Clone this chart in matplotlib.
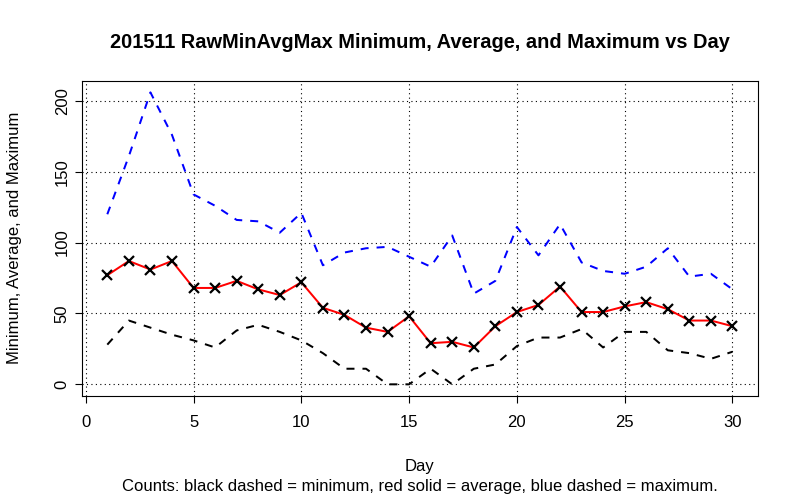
import matplotlib
matplotlib.use("Agg")
import matplotlib.pyplot as plt

days = list(range(1, 31))
minimum = [28, 45, 40, 35, 31, 26, 38, 42, 37, 31, 22, 11, 11, 0, 0,
           11, 0, 11, 14, 27, 33, 33, 39, 26, 37, 37, 24, 22, 18, 23]
average = [77, 87, 81, 87, 68, 68, 73, 67, 63, 72, 54, 49, 40, 37, 48,
           29, 30, 26, 41, 51, 56, 69, 51, 51, 55, 58, 53, 45, 45, 41]
maximum = [120, 161, 206, 176, 134, 126, 116, 115, 107, 121, 84, 93, 96, 97, 90,
           83, 105, 64, 73, 111, 91, 113, 86, 80, 78, 83, 96, 76, 78, 67]
xticks = [0, 5, 10, 15, 20, 25, 30]
yticks = [0, 50, 100, 150, 200]

plt.rcParams['font.family'] = ['Liberation Sans', 'DejaVu Sans']
W, H = 799, 499
fig = plt.figure(figsize=(W / 100, H / 100), dpi=100)
l, r, t, b = 82.3, 757.5, 80.7, 396.0
ax = fig.add_axes([l / W, 1 - b / H, (r - l) / W, (b - t) / H])

lw = 1.44
ax.plot(days, minimum, color='black', lw=lw, dashes=(4, 4))
ax.plot(days, maximum, color='blue', lw=lw, dashes=(4, 4))
ax.plot(days, average, color='red', lw=lw)
ax.plot(days, average, linestyle='none', marker='x', color='black',
        markersize=7, markeredgewidth=1.6)

# R-style 4% axis extension
xmin, xmax = min(days), max(days)
dx = (xmax - xmin) * 0.04
ax.set_xlim(xmin - dx, xmax + dx)
ymin = min(minimum); ymax = max(maximum)
dy = (ymax - ymin) * 0.04
ax.set_ylim(ymin - dy, ymax + dy)

for xv in xticks:
    ax.axvline(xv, color='black', lw=0.8, dashes=(1, 3), zorder=0)
for yv in yticks:
    ax.axhline(yv, color='black', lw=0.8, dashes=(1, 3), zorder=0)

fs = 12
ax.set_xticks(xticks)
ax.set_yticks(yticks)
ax.set_xticklabels([str(v) for v in xticks])
ax.set_yticklabels([str(v) for v in yticks], rotation=90, va='center')
ax.tick_params(axis='both', direction='out', length=5, width=0.8,
               labelsize=fs, colors='black')
ax.tick_params(axis='x', pad=9)
ax.tick_params(axis='y', pad=4)
for s in ax.spines.values():
    s.set_color('black')
    s.set_linewidth(0.8)

fig.text(420 / W, 1 - 42 / H, '201511 RawMinAvgMax Minimum, Average, and Maximum vs Day',
         ha='center', va='center', fontsize=14.4, fontweight='bold')
fig.text(420 / W, 1 - 467 / H, 'Day', ha='center', va='center', fontsize=fs)
fig.text(420 / W, 1 - 487 / H,
         'Counts: black dashed = minimum, red solid = average, blue dashed = maximum.',
         ha='center', va='center', fontsize=fs)
fig.text(15 / W, 1 - 238 / H, 'Minimum, Average, and Maximum', rotation=90,
         ha='center', va='center', fontsize=fs)

fig.savefig('out.png', dpi=100)
